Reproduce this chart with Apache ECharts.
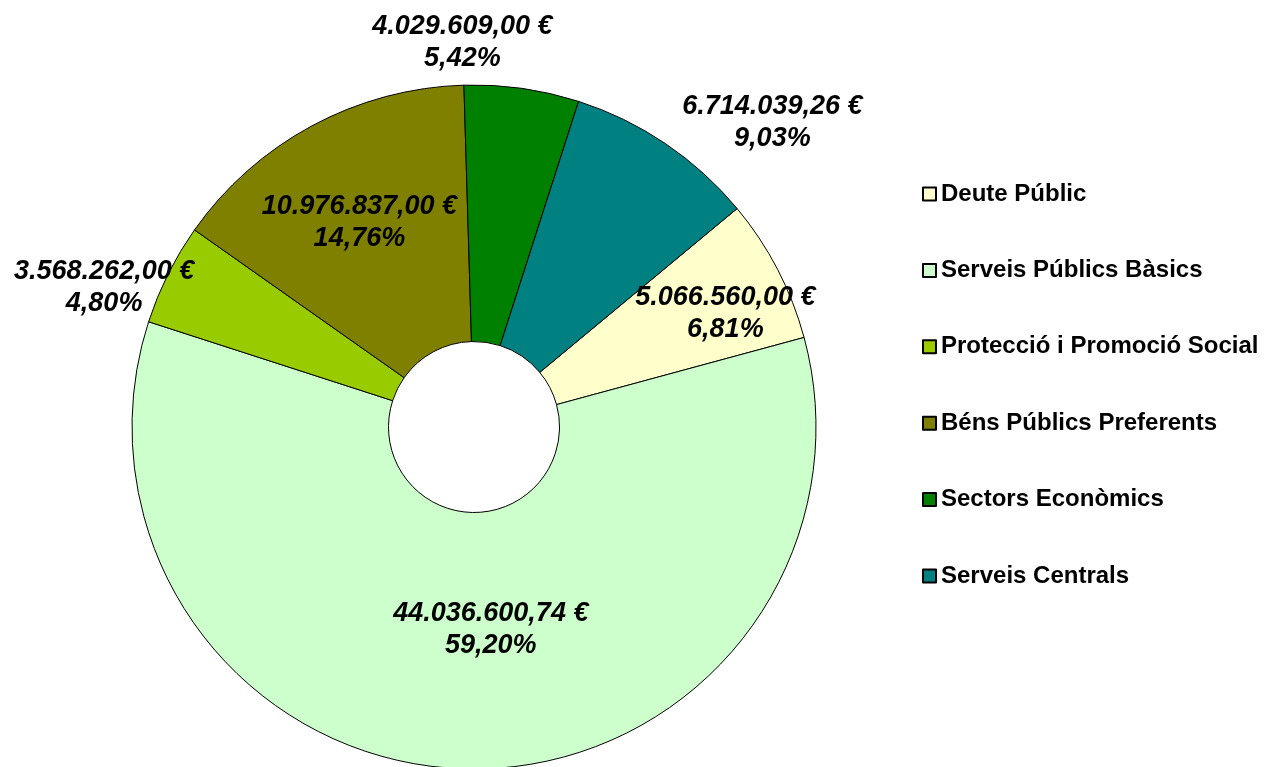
<!DOCTYPE html>
<html>
<head>
<meta charset="utf-8">
<script src="https://cdn.jsdelivr.net/npm/echarts@6/dist/echarts.min.js"></script>
<style>
  html, body { margin: 0; padding: 0; background: #fff; }
  #chart { width: 1266px; height: 767px; }
</style>
</head>
<body>
<div id="chart"></div>
<script>
var categories = ['Deute Públic', 'Serveis Públics Bàsics', 'Protecció i Promoció Social', 'Béns Públics Preferents', 'Sectors Econòmics', 'Serveis Centrals']
var values = [5066560.00, 44036600.74, 3568262.00, 10976837.00, 4029609.00, 6714039.26]
var colors = ['#FFFFCC', '#CCFFCC', '#99CC00', '#808000', '#008000', '#008080']
// label nudges away from the inside spot (px)
var labelShift = [[59, -14], [22, -14], [-176, -43], [-12, -14], [-42, -170], [177, -125]]

var total = values.reduce(function (a, b) { return a + b }, 0)

function fmtEuro (v) {
  var parts = v.toFixed(2).split('.')
  var intPart = parts[0].replace(/\B(?=(\d{3})+(?!\d))/g, '.')
  return intPart + ',' + parts[1] + ' €'
}

var chart = echarts.init(document.getElementById('chart'))
var option = {
  animation: false,
  color: colors,
  legend: {
    orient: 'vertical',
    left: 917,
    top: 177,
    itemWidth: 13,
    itemHeight: 13,
    itemGap: 52.4,
    icon: 'rect',
    textStyle: {
      fontFamily: 'Liberation Sans, Arial, sans-serif',
      fontWeight: 'bold',
      fontSize: 24,
      lineHeight: 24,
      color: '#000'
    },
    data: categories
  },
  series: [{
    type: 'pie',
    center: [474, 427],
    radius: [85.5, 342],
    startAngle: 39.7,
    clockwise: true,
    avoidLabelOverlap: false,
    itemStyle: {
      borderColor: '#000',
      borderWidth: 1
    },
    label: {
      show: true,
      position: 'inside',
      color: '#000',
      fontFamily: 'Liberation Sans, Arial, sans-serif',
      fontWeight: 'bold',
      fontStyle: 'italic',
      fontSize: 27,
      lineHeight: 32,
      align: 'center',
      formatter: function (p) {
        var pct = (p.value / total * 100).toFixed(2).replace('.', ',')
        return fmtEuro(p.value) + '\n' + pct + '%'
      }
    },
    labelLine: { show: false },
    labelLayout: function (p) {
      var s = labelShift[p.dataIndex]
      return { dx: s[0], dy: s[1] }
    },
    emphasis: { disabled: true },
    data: categories.map(function (name, i) {
      return { name: name, value: values[i] }
    })
  }]
}
chart.setOption(option)
</script>
</body>
</html>
